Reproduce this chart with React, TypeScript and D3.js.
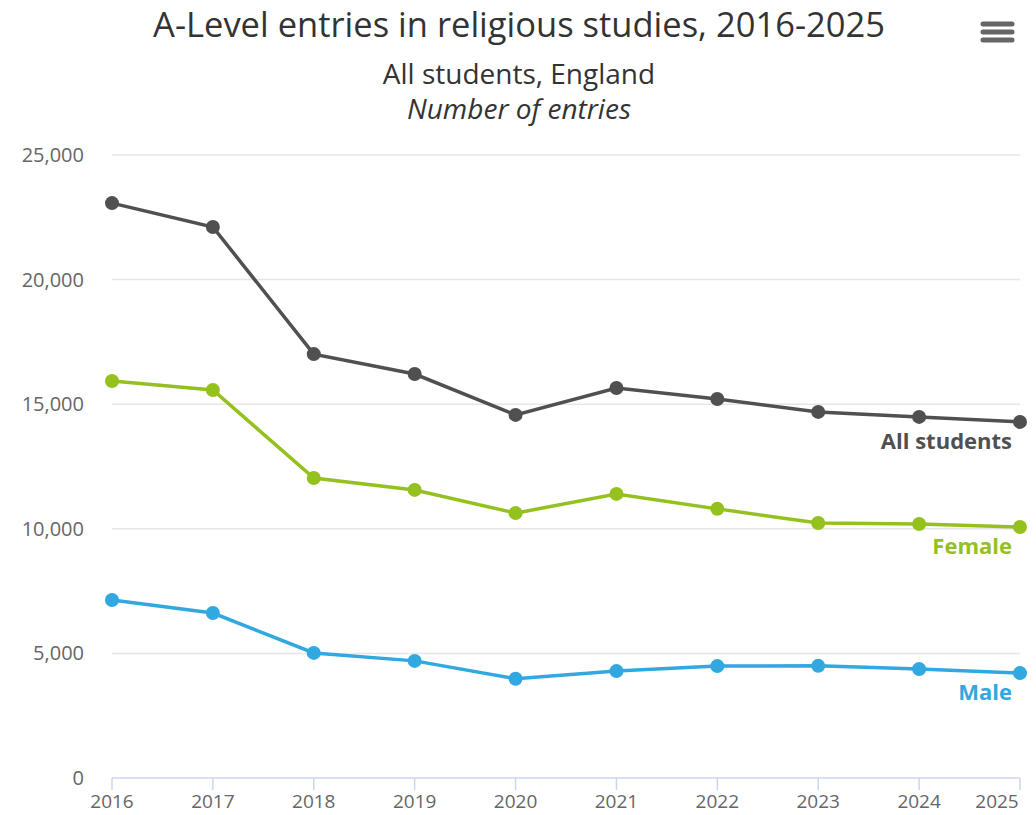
import React, { useEffect, useRef } from "react";
import * as d3 from "d3";

const years = [2016, 2017, 2018, 2019, 2020, 2021, 2022, 2023, 2024, 2025];
const allStudents = [23070, 22110, 17010, 16210, 14570, 15650, 15210, 14690, 14490, 14290];
const female = [15930, 15570, 12040, 11560, 10630, 11400, 10800, 10230, 10190, 10070];
const male = [7140, 6620, 5020, 4700, 3980, 4290, 4490, 4500, 4370, 4210];
const yTicks = [0, 5000, 10000, 15000, 20000, 25000];

const seriesList = [
  { name: "All students", values: allStudents, color: "#505050" },
  { name: "Female", values: female, color: "#95c11f" },
  { name: "Male", values: male, color: "#31a8e0" },
];

const W = 1036;
const H = 815;
const FONT = "'Open Sans', 'Noto Sans', sans-serif";

const App: React.FC = () => {
  const svgRef = useRef<SVGSVGElement>(null);

  useEffect(() => {
    if (!svgRef.current) return;
    const svg = d3.select(svgRef.current);
    svg.selectAll("*").remove();

    const x = d3.scaleLinear().domain([2016, 2025]).range([112, 1020]);
    const y = d3.scaleLinear().domain([0, 25000]).range([778, 155]);

    // titles
    svg.append("text").attr("x", 519).attr("y", 37).attr("text-anchor", "middle")
      .attr("font-size", 34.5).attr("fill", "#333").text("A-Level entries in religious studies, 2016-2025");
    svg.append("text").attr("x", 519).attr("y", 84).attr("text-anchor", "middle")
      .attr("font-size", 28).attr("fill", "#333").text("All students, England");
    svg.append("text").attr("x", 519).attr("y", 119).attr("text-anchor", "middle")
      .attr("font-size", 28).attr("font-style", "italic").attr("fill", "#333").text("Number of entries");

    // menu icon
    [0, 8, 16].forEach((d) => {
      svg.append("line").attr("x1", 983).attr("x2", 1012).attr("y1", 24 + d).attr("y2", 24 + d)
        .attr("stroke", "#666").attr("stroke-width", 5).attr("stroke-linecap", "round");
    });

    // grid
    svg.append("g").selectAll("line").data(yTicks.filter((t) => t > 0)).join("line")
      .attr("x1", 112).attr("x2", 1020).attr("y1", (d) => y(d)).attr("y2", (d) => y(d))
      .attr("stroke", "#e6e6e6").attr("stroke-width", 1.5);

    // y labels
    svg.append("g").selectAll("text").data(yTicks).join("text")
      .attr("x", 84).attr("y", (d) => y(d) + 7).attr("text-anchor", "end")
      .attr("font-size", 20).attr("fill", "#666").text((d) => d3.format(",")(d));

    // x axis
    svg.append("line").attr("x1", 112).attr("x2", 1020).attr("y1", 778).attr("y2", 778)
      .attr("stroke", "#ccd6eb").attr("stroke-width", 1.5);
    svg.append("g").selectAll("line").data(years).join("line")
      .attr("x1", (d) => x(d)).attr("x2", (d) => x(d)).attr("y1", 778).attr("y2", 790)
      .attr("stroke", "#ccd6eb").attr("stroke-width", 1.5);
    svg.append("g").selectAll("text").data(years).join("text")
      .attr("x", (d) => (d === 2025 ? x(d) - 23 : x(d))).attr("y", 808)
      .attr("text-anchor", "middle").attr("font-size", 19).attr("fill", "#666").text((d) => d);

    const line = d3.line<number>().x((_, i) => x(years[i])).y((d) => y(d));

    seriesList.forEach((s) => {
      const g = svg.append("g");
      g.append("path").attr("d", line(s.values)).attr("fill", "none")
        .attr("stroke", s.color).attr("stroke-width", 3.5);
      g.selectAll("circle").data(s.values).join("circle")
        .attr("cx", (_, i) => x(years[i])).attr("cy", (d) => y(d)).attr("r", 7)
        .attr("fill", s.color);
      const last = s.values[s.values.length - 1];
      g.append("text").attr("x", 1012).attr("y", y(last) + 27).attr("text-anchor", "end")
        .attr("font-size", 22).attr("font-weight", "bold").attr("fill", s.color).text(s.name);
    });
  }, []);

  return (
    <svg ref={svgRef} width={W} height={H} fontFamily={FONT}
      style={{ position: "absolute", left: 0, top: 0, background: "#fff" }} />
  );
};

export default App;
